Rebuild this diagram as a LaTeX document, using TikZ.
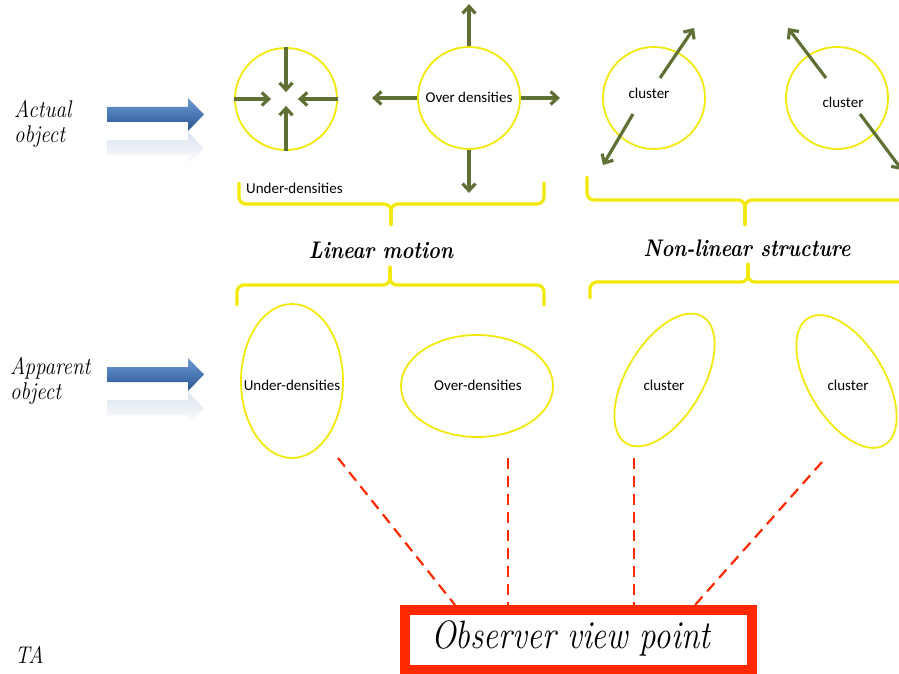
\documentclass[tikz,border=0pt]{standalone}
\usepackage{fontspec}
\newfontfamily\carl{Carlito}
\usetikzlibrary{arrows.meta,shapes.geometric}
\definecolor{ylw}{RGB}{242,232,10}
\definecolor{grn}{RGB}{94,112,52}
\definecolor{redb}{RGB}{255,40,0}
\definecolor{blueL}{RGB}{110,155,210}
\definecolor{blueM}{RGB}{75,120,180}
\definecolor{blueD}{RGB}{40,85,140}
\definecolor{refl}{RGB}{218,226,238}
\tikzset{
 ring/.style={circle, draw=ylw, line width=1.8pt, minimum size=102pt, inner sep=0pt},
 oval/.style={ellipse, draw=ylw, line width=1.8pt, inner sep=0pt},
 garrow/.style={draw=grn, line width=3.2pt, -{Straight Barb[length=7pt,width=13pt]}},
 bracestyle/.style={draw=ylw, line width=3.2pt, rounded corners=7pt, line cap=round},
 sans/.style={font=\carl\fontsize{15}{18}\selectfont, inner sep=0pt},
 script/.style={font=\bfseries\itshape\fontsize{20}{25}\selectfont, inner sep=0pt},
 sidetext/.style={font=\itshape\fontsize{21}{25}\selectfont, inner sep=0pt, align=left, anchor=north west},
 sight/.style={draw=redb, line width=2.2pt, dash pattern=on 11pt off 7pt},
 bluearrow/.style={top color=blueL, bottom color=blueD, middle color=blueM, draw=none},
 reflarrow/.style={top color=refl, bottom color=white, draw=none},
}
\begin{document}
\begin{tikzpicture}[x=1pt,y=-1pt]
\useasboundingbox (0,0) rectangle (899,674);
\clip (0,0) rectangle (899,674);

% side labels
\node[sidetext] (actual) at (14,100) {\scalebox{1}[1.15]{Actual}\\\scalebox{1}[1.15]{object}};
\node[sidetext] (apparent) at (10,357) {\scalebox{1}[1.15]{Apparent}\\\scalebox{1}[1.15]{object}};
\node[font=\itshape\fontsize{21}{24}\selectfont, inner sep=0pt, anchor=base west] (ta) at (15,663) {\scalebox{1}[1.15]{TA}};

% blue arrows
\shade[bluearrow] (107,107) -- (188,107) -- (188,98) -- (204,114.5) -- (188,131) -- (188,122) -- (107,122) -- cycle;
\shade[reflarrow] (107,140) -- (188,140) -- (188,132) -- (204,148.5) -- (188,165) -- (188,155) -- (107,155) -- cycle;
\shade[bluearrow] (107,367) -- (188,367) -- (188,358) -- (204,374.5) -- (188,391) -- (188,382) -- (107,382) -- cycle;
\shade[reflarrow] (107,400) -- (188,400) -- (188,392) -- (204,408.5) -- (188,425) -- (188,415) -- (107,415) -- cycle;

% top circles
\node[ring] (c1) at (286,99) {};
\node[ring] (c2) at (469,98) {};
\node[sans] (c2t) at (469,97) {Over densities};
\node[ring] (c3) at (654,98) {};
\node[sans] (c3t) at (649,93) {cluster};
\node[ring] (c4) at (837,98) {};
\node[sans] (c4t) at (843,102) {cluster};
\node[sans, anchor=west] (udt) at (246,188) {Under-densities};

% green arrows
\draw[garrow] (c1.north) -- ++(0,45);
\draw[garrow] (c1.south) -- ++(0,-45);
\draw[garrow] (c1.west) -- ++(37,0);
\draw[garrow] (c1.east) -- ++(-40,0);
\draw[garrow] (c2.north) -- ++(0,-42);
\draw[garrow] (c2.south) -- ++(0,43);
\draw[garrow] (c2.west) -- ++(-45,0);
\draw[garrow] (c2.east) -- ++(39,0);
\coordinate (a3s) at (660,78);
\coordinate (a3e) at (694,28);
\coordinate (b3s) at (633,114);
\coordinate (b3e) at (603,165);
\draw[garrow] (a3s) -- (a3e);
\draw[garrow] (b3s) -- (b3e);
\coordinate (a4s) at (826,78);
\coordinate (a4e) at (788,28);
\coordinate (b4s) at (860,114);
\coordinate (b4e) at (902,170);
\draw[garrow] (a4s) -- (a4e);
\draw[garrow] (b4s) -- (b4e);

% braces
\draw[bracestyle] (239,183) -- (239,204) -- (391,204) -- (391,225);
\draw[bracestyle] (544,183) -- (544,204) -- (391,204) -- (391,225);
\draw[bracestyle] (587,177) -- (587,200) -- (745,200) -- (745,225);
\draw[bracestyle] (910,200) -- (745,200) -- (745,225);
\draw[bracestyle] (237,305) -- (237,285) -- (390,285) -- (390,267);
\draw[bracestyle] (544,305) -- (544,285) -- (390,285) -- (390,267);
\draw[bracestyle] (590,298) -- (590,282) -- (748,282) -- (748,264);
\draw[bracestyle] (910,282) -- (748,282) -- (748,264);

% group titles
\node[script, anchor=base] (lin) at (381,258) {\scalebox{1}[1.2]{Linear motion}};
\node[script, anchor=base] (nonlin) at (747,256) {\scalebox{1}[1.2]{Non-linear structure}};

% apparent objects
\node[oval, minimum width=102pt, minimum height=154pt] (e1) at (292,381) {};
\node[sans] at (292,385) {Under-densities};
\node[oval, minimum width=152pt, minimum height=102pt] (e2) at (477,386) {};
\node[sans] at (478,385) {Over-densities};
\node[oval, minimum width=148pt, minimum height=76pt, rotate=59] (e3) at (664.5,380) {};
\node[sans] at (664,385) {cluster};
\node[oval, minimum width=148pt, minimum height=76pt, rotate=-59] (e4) at (846.5,381.5) {};
\node[sans] at (848,385) {cluster};

% observer box
\node[draw=redb, line width=10pt, minimum width=347pt, minimum height=60pt, inner sep=0pt] (obs) at (578.5,640) {};
\node[font=\itshape\fontsize{33}{40}\selectfont, inner sep=0pt, anchor=base] (obst) at (570.5,648) {\scalebox{1}[1.2]{Observer view point}};

% sight lines
\coordinate (s1) at (338,458); \coordinate (t1) at (455,605);
\coordinate (s2) at (508,458); \coordinate (t2) at (508,605);
\coordinate (s3) at (634,458); \coordinate (t3) at (634,605);
\coordinate (s4) at (822,462); \coordinate (t4) at (695,605);
\draw[sight] (s1) -- (t1);
\draw[sight] (s2) -- (t2);
\draw[sight] (s3) -- (t3);
\draw[sight] (s4) -- (t4);
\end{tikzpicture}
\end{document}
